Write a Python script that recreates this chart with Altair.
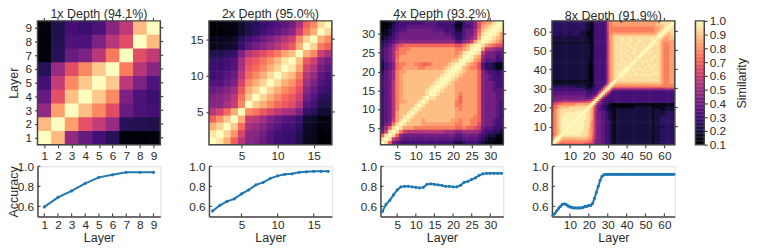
import altair as alt
import pandas as pd

FONT = "Arial, Liberation Sans, sans-serif"
INK = "#2b2b2b"
FRAME = "#454545"
LINE = "#1f77b4"

titles = ["1x Depth (94.1%)", "2x Depth (95.0%)", "4x Depth (93.2%)", "8x Depth (91.9%)"]
tick_1x = [1, 2, 3, 4, 5, 6, 7, 8, 9]
tick_2x = [5, 10, 15]
tick_4x = [5, 10, 15, 20, 25, 30]
tick_8x = [10, 20, 30, 40, 50, 60]
acc_ticks = [0.6, 0.8, 1.0]
bar_ticks = [0.1, 0.2, 0.3, 0.4, 0.5, 0.6, 0.7, 0.8, 0.9, 1.0]

acc_1x = [.595, .69, .755, .83, .89, .915, .94, .94, .94]
acc_2x = [.555, .61, .65, .675, .725, .765, .815, .84, .88, .905, .92, .925, .94, .945, .95, .95, .95]
acc_4x = [.55, .62, .66, .715, .765, .795, .80, .80, .795, .79, .785, .79, .82, .825, .82, .815, .81,
          .80, .80, .795, .795, .81, .84, .85, .87, .885, .91, .925, .93, .93, .93, .93, .93]
acc_8x = [.51, .53, .555, .58, .60, .62, .625, .62, .605, .595, .59, .585, .585, .585, .585, .585,
          .59, .60, .60, .61, .61, .63, .68, .74, .80, .86, .90, .915, .92, .92, .92, .92, .92,
          .92, .92, .92, .92, .92, .92, .92, .92, .92, .92, .92, .92, .92, .92, .92, .92, .92,
          .92, .92, .92, .92, .92, .92, .92, .92, .92, .92, .92, .92, .92, .92, .92]

sim_1x = [
    [100, 87, 47, 37, 30, 24, 11, 11, 12],
    [87, 100, 82, 66, 58, 48, 24, 23, 22],
    [47, 82, 100, 88, 78, 65, 38, 32, 30],
    [37, 66, 88, 100, 90, 78, 42, 32, 28],
    [30, 58, 78, 90, 100, 90, 56, 42, 32],
    [24, 48, 65, 78, 90, 100, 75, 55, 45],
    [11, 24, 38, 42, 56, 75, 100, 65, 57],
    [11, 23, 32, 32, 42, 55, 65, 100, 87],
    [12, 22, 30, 28, 32, 45, 57, 87, 100],
]

sim_2x = [
    [100, 95, 85, 70, 55, 45, 42, 38, 33, 28, 28, 27, 22, 15, 14, 10, 11],
    [95, 100, 92, 80, 62, 45, 45, 40, 33, 30, 28, 27, 23, 16, 15, 10, 12],
    [85, 92, 100, 90, 72, 52, 48, 44, 38, 34, 30, 30, 25, 17, 15, 12, 13],
    [70, 80, 90, 100, 85, 58, 56, 50, 42, 38, 34, 33, 27, 18, 17, 12, 13],
    [55, 62, 72, 85, 100, 78, 74, 68, 62, 56, 52, 50, 42, 27, 24, 18, 18],
    [45, 45, 52, 58, 78, 100, 90, 85, 78, 72, 68, 65, 55, 35, 30, 22, 22],
    [42, 45, 48, 56, 74, 90, 100, 92, 85, 78, 72, 68, 60, 40, 33, 25, 24],
    [38, 40, 44, 50, 68, 85, 92, 100, 92, 85, 78, 74, 65, 45, 38, 30, 27],
    [33, 33, 38, 42, 62, 78, 85, 92, 100, 93, 85, 80, 70, 50, 42, 33, 30],
    [28, 30, 34, 38, 56, 72, 78, 85, 93, 100, 92, 87, 75, 55, 48, 36, 32],
    [28, 28, 30, 34, 52, 68, 72, 78, 85, 92, 100, 95, 83, 62, 54, 40, 35],
    [27, 27, 30, 33, 50, 65, 68, 74, 80, 87, 95, 100, 88, 68, 60, 45, 40],
    [22, 23, 25, 27, 42, 55, 60, 65, 70, 75, 83, 88, 100, 85, 78, 60, 52],
    [15, 16, 17, 18, 27, 35, 40, 45, 50, 55, 62, 68, 85, 100, 92, 75, 70],
    [14, 15, 15, 17, 24, 30, 33, 38, 42, 48, 54, 60, 78, 92, 100, 85, 78],
    [10, 10, 12, 12, 18, 22, 25, 30, 33, 36, 40, 45, 60, 75, 85, 100, 93],
    [11, 12, 13, 13, 18, 22, 24, 27, 30, 32, 35, 40, 52, 70, 78, 93, 100],
]

# Similarity value of each letter used in the two triangles below (a..s).
letter_levels = [.10, .15, .20, .25, .30, .35, .40, .45, .50, .55, .60, .65, .71, .76, .82, .88, .94, .98, 1.0]

# Lower triangles of the two deep panels, read by eye: row r holds layers 1..r.
sim_4x = [
    "s",
    "qs",
    "mqs",
    "gkqs",
    "fimqs",
    "eghnq s",
    "efgko qs",
    "efgjo pqs",
    "efgjo ppqs",
    "efgjn pppqs",
    "efgjn ppppq s",
    "efgjn ooppp qs",
    "efgjn opppp pqs",
    "efgjn opppp ppqs",
    "efgjn opppp ppqrs",
    "efgjn opppp pppqr s",
    "efgjn opppp ppppq rs",
    "efgin opppp ppppp qrs",
    "efgin opppp ppppp pqrs",
    "dfgin ooppp ppppp ppqrs",
    "cefhm noooo nnooo oopqr s",
    "cefhm nnoon nmmno ooopq rs",
    "dfgin ooooo ooooo oooop prs",
    "efgim ooooo ooooo ooooo oprs",
    "efgim nnooo ooooo ooooo noqrs",
    "efgil nnnoo ooooo ooooo nnopr s",
    "defhk lmmmm mmmmm mmmmm llnoq rs",
    "cdefg hhhhh hhhhh hhhhh ffhik oqs",
    "bcdef ggggg ggggg ggggf ddfgh jors",
    "bbcef ggggg ggggg ggffe ddfgg jnqrs",
    "abcde ffggg ggggf ffeee ccfgg impqr s",
    "aabde eefff fffff eeeed bbeef hlopq rs",
    "aabcd eeeee eefff eeeee bbeff hlnoo qrs",
]

sim_8x = [
    "s",
    "qs",
    "ors",
    "nprs",
    "moprs",
    "lnopr s",
    "mnopq rs",
    "mnopq rrs",
    "mnopq rrrs",
    "mnopq rrrrs",
    "mnopq rrrrr s",
    "mnopq rrrrr rs",
    "mnopq rrrrr rrs",
    "mnopq rrrrr rrrs",
    "mnopq rrrrr rrrrs",
    "mnopq qrrrr rrrrr s",
    "mnopq qqrrr rrrrr rs",
    "lnopq qqqqq qqqrr rrs",
    "lnopp qqqqq qqqqq qqrs",
    "lmnop ppppq qqqqq qqqrs",
    "kmnoo ooooo ooppp ppppq s",
    "jllmm nnnnn nnnoo ooooo qs",
    "hiijj jkkkk kkkkk kkkll mqs",
    "gghhh hhhhh hhhhh hhhii ilps",
    "ggggg ggggg ggggg gggff ghkps",
    "fgggg ggggg ggggg ggfff fghkp s",
    "fffff fffff fffff fffee effgk ps",
    "fffff fffff fffff fffee deefh lps",
    "eeeee eeeee eeeee eeedd deeef hlps",
    "eeeee eeeee eeeee eddcc cdeee fimps",
    "ddddd ddddd dddcc ccccb bcdee efinq s",
    "ccccc ccccc ccccc cccbb bbdee eefim qs",
    "bbbbb bbbbb bbbbb bbbbb aaeee eeefk oqs",
    "bbbbb bbbbb bbbbb bbbbb aaeee eeefj noqs",
    "ccccc ccccc ccccc ccccb aaeee eeefj nopqs",
    "ccccc ccccc ccccc ccccb abeee eeefj nopqq s",
    "ccccc ccccc ccccc ccccb abeee eeefj nopqq rs",
    "ccccc ccccc ccccc ccccb abeee eeefj nopqq rrs",
    "ccccc ccccc ccccc ccccb abeee eeefj nopqq qrrs",
    "ccccc ccccc ccccc ccccb abeee eeefj nopqq qqrrs",
    "ccccc ccccc ccccc ccccb abeee eeefj nopqq qqqrr s",
    "ccccc ccccc ccccc ccccb abeee eeefj nopqq qrqqq rs",
    "ccccc ccccc ccccc ccccb abeee eeefj nopqq qqqrq qrs",
    "ccccc ccccc ccccc ccccb abeee eeefj nopqq qrqqr qqrs",
    "ccccc ccccc ccccc ccccc bbeee eeefj nopqq qqrqq qqqrs",
    "ccccc ccccc ccccc ccccc bbeee eeefj nopqq qrqqq qrqqq s",
    "ccccc ccccc ccccc ccccc bbeee eeefj nopqq qqqqr qqqqr rs",
    "ccccc ccccc ccccc ccccc bbeee eeefj nopqq qrqqq qqrqq qrs",
    "ccccc ccccc ccccc ccccc bbeee eeefj nopqq qqqrq qqqrq qqrs",
    "ccccc ccccc ccccc ccccc bbeee eeefj nopqq qrqqq rqqqr qqqrs",
    "ccccc ccccc ccccc ccccc bbeee eeefj nopqq qqqrq qqqrq qqqqr s",
    "ccccc ccccc ccccc ccccc bbeee eeefj nopqq qrqqq qrqqq qqrqq rs",
    "ccccc ccccc ccccc ccccc bbeee eeefj nopqq qqqqr qqqqr qqqrq qrs",
    "bbbbb bbbbb bbbbb bbbbb aaeee eeefj nopqq qrqqq rqqqq rqqqq qqrs",
    "ccccc ccccc ccccc ccccb bbeee eeefj nopqq qqrqq qrqqq qrqqq qqqrs",
    "ccccc ccccc ccccc ccccb bbeee eeefj nopqq qqrqq qrqqq qrqqq qqqrq s",
    "ccccc ccccc ccccc ccccb bbeee eeefj nopqq qqqqq qqqqq qqqqq qqqqq qs",
    "ddddc ddddc ddddd cccbb bbeee eeefj noppp ppppp ppppp ppppp ppppp qrs",
    "ddddc ddddc ddddd cccbb bbeee eeefj nnooo ooooo ooooo ooooo ooooo pqrs",
    "ddddc ddddc ddddd cccbb bbeee eeefj nnnnn nnnnn nnnnn nnnnn nnnno opqrs",
    "ddddd ddddd ddddd dddcc bbeee eeefk nnnnn nnnnn nnnnn nnnnn nnnno oopqr s",
    "ddddd ddddd ddddd dddcc bbeee eeefk nnnnn nnnnn nnnnn nnnnn nnnno ooppq rs",
    "ddddd ddddd ddddd dddcc bbeee eeefk nnooo ooooo ooooo ooooo ooooo ppppq qrs",
    "ddddd ddddd ddddd dddcc bbeee eeefk nnooo ooooo ooooo ooooo ooooo ppqqq qqrs",
    "ddddd ddddd ddddd dddcc bbeee eeefk nnooo ooooo ooooo ooooo ooooo ppqqq qqqrs",
]

colorbar_levels = [v / 100 for v in range(10, 100)]


def from_lists(matrix):
    return [[v / 100 for v in row] for row in matrix]


def from_triangle(rows):
    n = len(rows)
    out = [[0.0] * n for _ in range(n)]
    for r, text in enumerate(rows):
        chars = text.replace(" ", "")
        chars = (chars + chars[-1] * n)[: r + 1]
        for c, ch in enumerate(chars):
            out[r][c] = out[c][r] = letter_levels[ord(ch) - ord("a")]
    return out


W, H1, H2 = 125, 126, 51
COLOR = alt.Scale(scheme="magma", domain=[0.1, 1.0])
TICK_W = 1.2
LABEL = 12
TITLE = 12.7


def panel_title(text, offset=-3):
    return alt.TitleParams(text, fontSize=TITLE, font=FONT, color=INK, fontWeight="normal", offset=offset)


def heat(matrix, ticks, first):
    n = len(matrix)
    lap = 0.6 * n / W  # half a pixel of overlap so no seams show between cells
    df = pd.DataFrame(
        [{"x0": c + 0.5, "x1": c + 1.5 + lap, "y0": r + 0.5, "y1": r + 1.5 + lap, "v": v}
         for r, row in enumerate(matrix) for c, v in enumerate(row)]
    )
    sx = alt.Scale(domain=[0.5, n + 0.5], nice=False, zero=False)
    sy = alt.Scale(domain=[0.5, n + 0.5], nice=False, zero=False)
    ax = alt.Axis(values=ticks, format="d", title=None, domain=False, grid=False, tickSize=3,
                  tickWidth=TICK_W, tickColor=FRAME, labelFontSize=LABEL, labelPadding=3, labelColor=INK,
                  labelFont=FONT, labelFlush=False)
    ay = alt.Axis(values=ticks, format="d", domain=False, grid=False, tickSize=3,
                  tickWidth=TICK_W, tickColor=FRAME, labelFontSize=LABEL, labelPadding=3, labelColor=INK,
                  labelFont=FONT, title="Layer" if first else None, titleFontSize=TITLE, titleFont=FONT,
                  titleColor=INK, titleFontWeight="normal", titleX=-17 if first else 0)
    cells = alt.Chart(df).mark_rect(clip=True).encode(
        x=alt.X("x0:Q", scale=sx, axis=ax),
        x2="x1:Q",
        y=alt.Y("y0:Q", scale=sy, axis=ay),
        y2="y1:Q",
        fill=alt.Fill("v:Q", scale=COLOR, legend=None),
    )
    tdf = pd.DataFrame({"t": ticks})
    top = alt.Chart(tdf).mark_rule(color=FRAME, strokeWidth=TICK_W).encode(
        x=alt.X("t:Q", scale=sx, axis=ax), y=alt.value(-3), y2=alt.value(0))
    right = alt.Chart(tdf).mark_rule(color=FRAME, strokeWidth=TICK_W).encode(
        y=alt.Y("t:Q", scale=sy, axis=ay), x=alt.value(W), x2=alt.value(W + 3))
    frame = alt.Chart(tdf.head(1)).mark_rect(filled=False, stroke=FRAME, strokeWidth=1.5).encode(
        x=alt.value(0), x2=alt.value(W), y=alt.value(0), y2=alt.value(H1))
    return alt.layer(cells, top, right, frame).properties(width=W, height=H1)


def colorbar():
    df = pd.DataFrame({"v": colorbar_levels, "v2": [v + 0.012 for v in colorbar_levels]})
    sy = alt.Scale(domain=[0.1, 1.0], nice=False, zero=False)
    ay = alt.Axis(orient="right", offset=30, values=bar_ticks, format=".1f", domain=False, grid=False,
                  tickSize=3, tickWidth=TICK_W, tickColor=FRAME, labelFontSize=LABEL, labelPadding=2,
                  labelColor=INK, labelFont=FONT, title="Similarity", titleAngle=270, titleFontSize=TITLE,
                  titleFont=FONT, titleColor=INK, titleFontWeight="normal", titleX=45, titleY=63)
    bar = alt.Chart(df).mark_rect().encode(
        x=alt.value(W + 21), x2=alt.value(W + 30),
        y=alt.Y("v:Q", scale=sy, axis=ay), y2="v2:Q",
        fill=alt.Fill("v:Q", scale=COLOR, legend=None),
    )
    frame = alt.Chart(df.head(1)).mark_rect(filled=False, stroke=FRAME, strokeWidth=1.5).encode(
        x=alt.value(W + 21), x2=alt.value(W + 30), y=alt.value(0), y2=alt.value(H1))
    return alt.layer(bar, frame)


def accuracy(values, ticks, first):
    n = len(values)
    df = pd.DataFrame({"layer": list(range(1, n + 1)), "acc": values})
    sx = alt.Scale(domain=[0.5, n + 0.5], nice=False, zero=False)
    sy = alt.Scale(domain=[0.5, 1.0], nice=False, zero=False)
    ax = alt.Axis(values=ticks, format="d", domain=True, domainColor=FRAME, domainWidth=1.5, grid=False,
                  ticks=False, labelFontSize=LABEL, labelPadding=3, labelColor=INK, labelFont=FONT,
                  title="Layer", titleFontSize=TITLE, titleFont=FONT, titleColor=INK,
                  titleFontWeight="normal", titlePadding=1, labelFlush=False)
    ay = alt.Axis(values=acc_ticks, format=".1f", domain=True, domainColor=FRAME, domainWidth=1.5, grid=False,
                  ticks=False, labelFontSize=LABEL, labelPadding=4, labelColor=INK, labelFont=FONT,
                  title="Accuracy" if first else None, titleFontSize=TITLE, titleFont=FONT, titleColor=INK,
                  titleFontWeight="normal", titleX=-17 if first else 0)
    base = alt.Chart(df).encode(x=alt.X("layer:Q", scale=sx, axis=ax), y=alt.Y("acc:Q", scale=sy, axis=ay))
    line = base.mark_line(color=LINE, strokeWidth=2)
    pts = base.mark_circle(color=LINE, size=10, opacity=1)
    xt = alt.Chart(pd.DataFrame({"t": ticks})).mark_rule(color=FRAME, strokeWidth=TICK_W).encode(
        x=alt.X("t:Q", scale=sx, axis=ax), y=alt.value(H2 - 3), y2=alt.value(H2))
    yt = alt.Chart(pd.DataFrame({"t": acc_ticks})).mark_rule(color=FRAME, strokeWidth=TICK_W).encode(
        y=alt.Y("t:Q", scale=sy, axis=ay), x=alt.value(0), x2=alt.value(3))
    return alt.layer(line, pts, xt, yt).properties(width=W, height=H2)


h1 = heat(from_lists(sim_1x), tick_1x, True).properties(title=panel_title(titles[0]))
h2 = heat(from_lists(sim_2x), tick_2x, False).properties(title=panel_title(titles[1]))
h3 = heat(from_triangle(sim_4x), tick_4x, False).properties(title=panel_title(titles[2]))
h4 = alt.layer(heat(from_triangle(sim_8x), tick_8x, False), colorbar()).resolve_scale(y="independent").properties(
    width=W, height=H1, title=panel_title(titles[3], offset=-7.5))

l1 = accuracy(acc_1x, tick_1x, True)
l2 = accuracy(acc_2x, tick_2x, False)
l3 = accuracy(acc_4x, tick_4x, False)
l4 = accuracy(acc_8x, tick_8x, False)

chart = alt.concat(h1, h2, h3, h4, l1, l2, l3, l4, columns=4, spacing={"row": 22, "column": 49.5}, bounds="flush").properties(
    padding={"left": -1, "top": -3, "right": 0, "bottom": 0}
).configure_view(strokeWidth=0).configure(font=FONT)

chart.save("out.html", embed_options={"renderer": "svg", "actions": False})
